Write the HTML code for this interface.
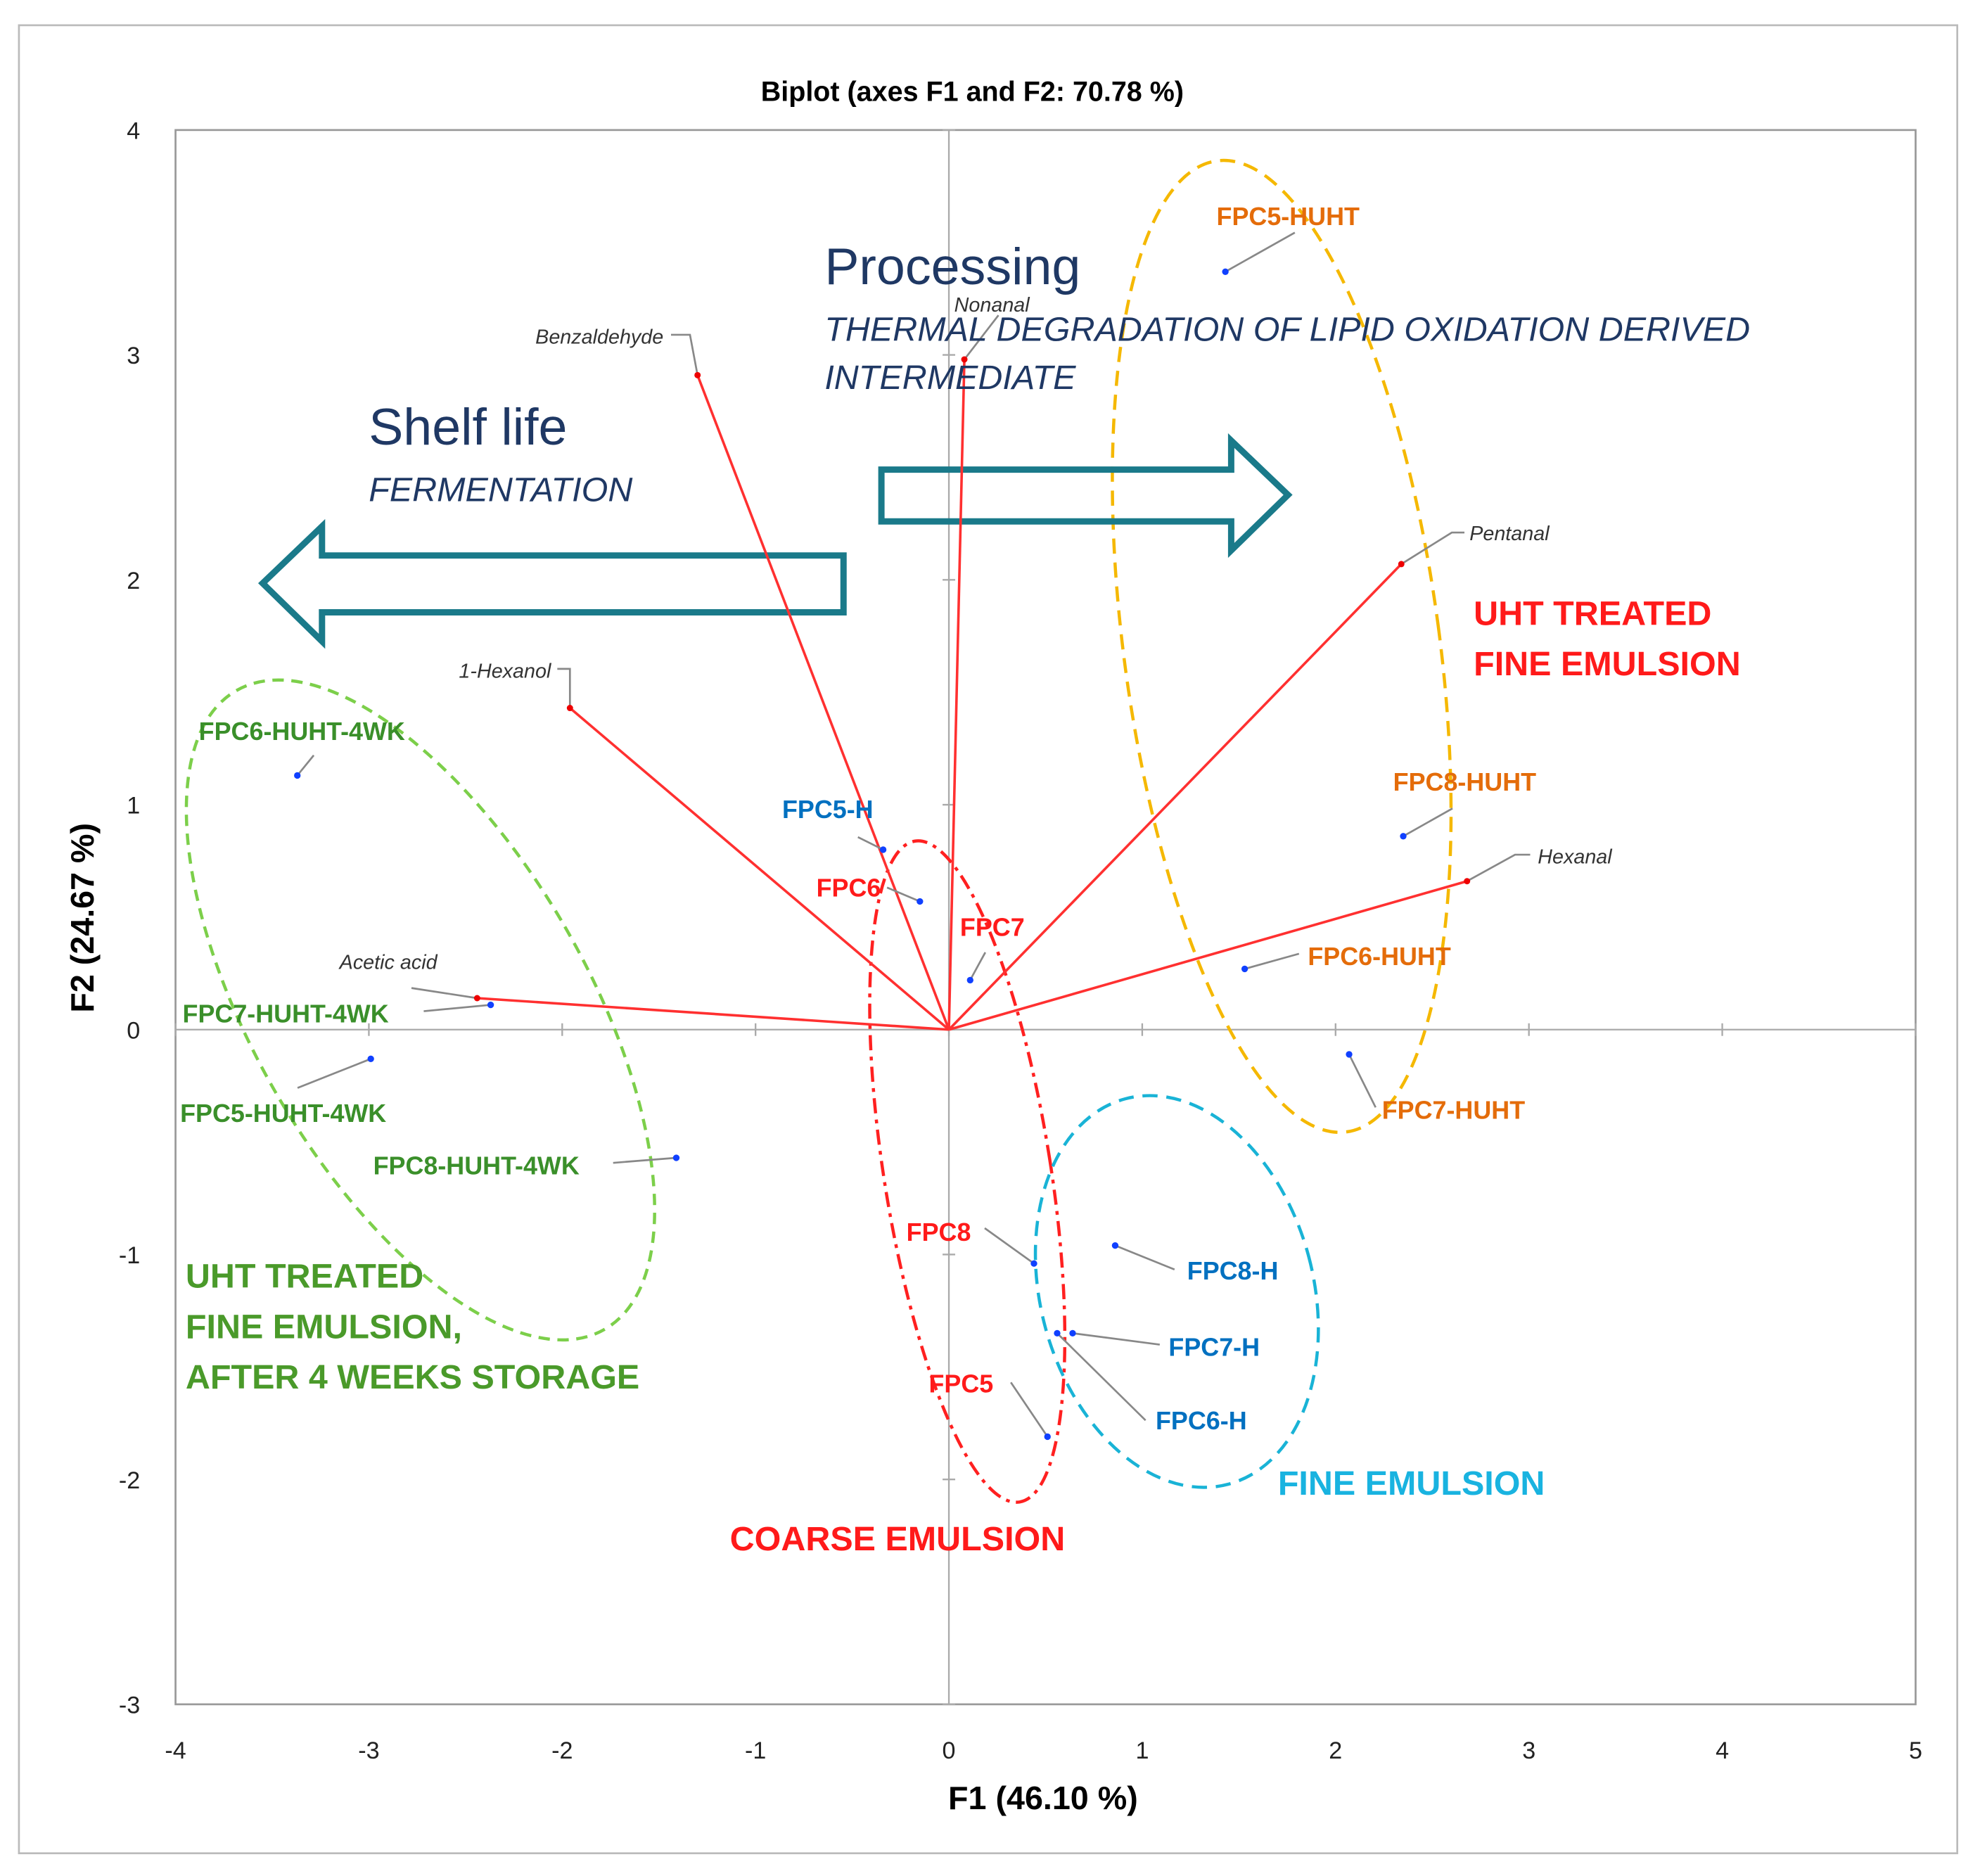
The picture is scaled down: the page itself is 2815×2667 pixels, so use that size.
<!DOCTYPE html>
<html><head><meta charset="utf-8"><style>
html,body{margin:0;padding:0;background:#fff}
svg{display:block}
text{font-family:"Liberation Sans",sans-serif}
</style></head><body>
<svg id="chart" width="2815" height="2667" viewBox="0 0 1568 1486" preserveAspectRatio="none" xmlns="http://www.w3.org/2000/svg">
<rect x="15" y="20" width="1535" height="1448" fill="#fff" stroke="#bbb" stroke-width="1.5"/>
<text x="770" y="80" font-size="22" font-weight="bold" text-anchor="middle">Biplot (axes F1 and F2: 70.78 %)</text>
<rect x="139" y="103" width="1378" height="1247" fill="none" stroke="#999" stroke-width="1.5"/>
<g id="axes"></g>
<g id="ellipses" fill="none" stroke-width="2.5">
<ellipse cx="333" cy="800" rx="132" ry="292" transform="rotate(-30 333 800)" stroke="#7ccf4a" stroke-dasharray="9 6"/>
<ellipse cx="1015" cy="512" rx="125" ry="388" transform="rotate(-7.6 1015 512)" stroke="#f5b800" stroke-dasharray="12 7"/>
<ellipse cx="766" cy="928" rx="66" ry="265" transform="rotate(-9 766 928)" stroke="#ff2020" stroke-dasharray="12 5 3 5"/>
<ellipse cx="932" cy="1023" rx="108" ry="158" transform="rotate(-15 932 1023)" stroke="#19b3d6" stroke-dasharray="12 7"/>
</g>
<g id="arrows" fill="none" stroke="#1a7a8a" stroke-width="5" stroke-linejoin="miter">
<path d="M668,440 L255,440 L255,417 L208,462 L255,508 L255,485 L668,485 Z"/>
<path d="M698,372 L975,372 L975,349 L1020,392 L975,436 L975,413 L698,413 Z"/>
</g>
<g id="marks"></g>
<text x="653" y="225" font-size="41" fill="#1f3864">Processing</text>
<text x="653" y="270" font-size="27" font-style="italic" fill="#1f3864">THERMAL DEGRADATION OF LIPID OXIDATION DERIVED</text>
<text x="653" y="308" font-size="27" font-style="italic" fill="#1f3864">INTERMEDIATE</text>
<text x="292" y="352" font-size="41" fill="#1f3864">Shelf life</text>
<text x="292" y="397" font-size="27" font-style="italic" fill="#1f3864">FERMENTATION</text>
<g font-weight="bold" font-size="27">
<text fill="#ff1a1a"><tspan x="1167" y="495">UHT TREATED</tspan><tspan x="1167" y="535">FINE EMULSION</tspan></text>
<text fill="#4a9a2a"><tspan x="147" y="1020">UHT TREATED</tspan><tspan x="147" y="1060">FINE EMULSION,</tspan><tspan x="147" y="1100">AFTER 4 WEEKS STORAGE</tspan></text>
<text x="1012" y="1184" fill="#19b3e0">FINE EMULSION</text>
<text x="578" y="1228" fill="#ff1a1a">COARSE EMULSION</text>
</g>
<text x="826" y="1433" font-size="26" font-weight="bold" text-anchor="middle">F1 (46.10 %)</text>
<text transform="translate(74,727) rotate(-90)" font-size="26" font-weight="bold" text-anchor="middle">F2 (24.67 %)</text>
</svg>
<script>
const xTicks=[-4,-3,-2,-1,0,1,2,3,4,5];
const yTicks=[-3,-2,-1,0,1,2,3,4];
const varNames=["Benzaldehyde","Nonanal","Pentanal","1-Hexanol","Hexanal","Acetic acid"];
const varX=[-1.30,0.08,2.34,-1.96,2.68,-2.44];
const varY=[2.91,2.98,2.07,1.43,0.66,0.14];
const obsNames=["FPC5-HUHT","FPC6-HUHT-4WK","FPC5-H","FPC6","FPC7","FPC8-HUHT","FPC6-HUHT","FPC7-HUHT-4WK","FPC5-HUHT-4WK","FPC7-HUHT","FPC8-HUHT-4WK","FPC8-H","FPC8","FPC7-H","FPC6-H","FPC5"];
const obsX=[1.43,-3.37,-0.34,-0.15,0.11,2.35,1.53,-2.37,-2.99,2.07,-1.41,0.86,0.44,0.64,0.56,0.51];
const obsY=[3.37,1.13,0.80,0.57,0.22,0.86,0.27,0.11,-0.13,-0.11,-0.57,-0.96,-1.04,-1.35,-1.35,-1.81];

const X0=139,X1=1517,Y0=1350,Y1=103;
const sx=v=>X0+(v-(-4))/9*(X1-X0);
const sy=v=>Y0-(v-(-3))/7*(Y0-Y1);
const NS="http://www.w3.org/2000/svg";
function mk(tag,attrs,parent){const e=document.createElementNS(NS,tag);for(const k in attrs)e.setAttribute(k,attrs[k]);parent.appendChild(e);return e;}
const ax=document.getElementById('axes');
let l=mk('line',{x1:sx(-4),x2:sx(5),y1:sy(0),y2:sy(0),stroke:'#aaa','stroke-width':1.3},ax);


l=mk('line',{x1:sx(0),x2:sx(0),y1:sy(-3),y2:sy(4),stroke:'#aaa','stroke-width':1.3},ax);


xTicks.forEach(v=>{
  const t=mk('line',{x1:sx(v),x2:sx(v),y1:sy(0)-5,y2:sy(0)+5,stroke:'#aaa','stroke-width':1.3},ax);
  
  
  const tx=mk('text',{x:sx(v),y:1393,'font-size':19,'text-anchor':'middle',fill:'#222'},ax);
  tx.textContent=v;
  
  
});
yTicks.forEach(v=>{
  const t=mk('line',{x1:sx(0)-5,x2:sx(0)+5,y1:sy(v),y2:sy(v),stroke:'#aaa','stroke-width':1.3},ax);
  
  
  const tx=mk('text',{x:111,y:sy(v)+7,'font-size':19,'text-anchor':'end',fill:'#222'},ax);
  tx.textContent=v;
  
  
});
const mg=document.getElementById('marks');
// variable label layout offsets (px): text dx,dy, anchor, leader points
const varLay=[[-27,-25,'end',[[-6,-32],[-21,-32]]],[-8,-38,'start',[[27,-35]]],[54,-19,'start',[[40,-25],[50,-25]]],[-15,-24,'end',[[0,-31],[-10,-31]]],[56,-14,'start',[[38,-21],[50,-21]]],[-109,-23,'start',[[-52,-8]]]];
varNames.forEach((n,i)=>{
  const px=sx(varX[i]),py=sy(varY[i]);
  const ln=mk('line',{x1:sx(0),y1:sy(0),x2:px,y2:py,stroke:'#ff3030','stroke-width':2},mg);
  
  
  const L=varLay[i];
  const pts=[[px,py]].concat(L[3].map(d=>[px+d[0],py+d[1]]));
  const ld=mk('polyline',{points:pts.map(p=>p.join(',')).join(' '),fill:'none',stroke:'#888','stroke-width':1.5},mg);
  
  
  const c=mk('circle',{cx:px,cy:py,r:2.5,fill:'#e00'},mg);
  
  
  const t=mk('text',{x:px+L[0],y:py+L[1],'font-size':16,'font-style':'italic','text-anchor':L[2],fill:'#333'},mg);
  t.textContent=n;
  
  
});
const obsLay=[[-7,-37,55,-31],[-78,-28,13,-16],[-80,-25,-20,-10],[-82,-4,-26,-11],[-8,-35,12,-22],[-8,-36,39,-22],[50,-3,43,-12],[-244,14,-53,5],[-151,50,-58,23],[26,51,21,42],[-240,13,-50,4],[57,27,47,19],[-101,-18,-39,-28],[76,18,69,9],[78,76,70,69],[-94,-35,-29,-43]];
function col(n){if(n.endsWith('4WK'))return '#3a8f2a';if(n.endsWith('HUHT'))return '#e46c0a';if(n.endsWith('-H'))return '#0070c0';return '#ff1a1a';}
obsNames.forEach((n,i)=>{
  const px=sx(obsX[i]),py=sy(obsY[i]);const L=obsLay[i];
  const ld=mk('line',{x1:px,y1:py,x2:px+L[2],y2:py+L[3],stroke:'#888','stroke-width':1.5},mg);
  
  
  const c=mk('circle',{cx:px,cy:py,r:2.6,fill:'#1040ff'},mg);
  
  
  const t=mk('text',{x:px+L[0],y:py+L[1],'font-size':20,'font-weight':'bold',fill:col(n)},mg);
  t.textContent=n;
  
  
});
</script>
</body></html>
